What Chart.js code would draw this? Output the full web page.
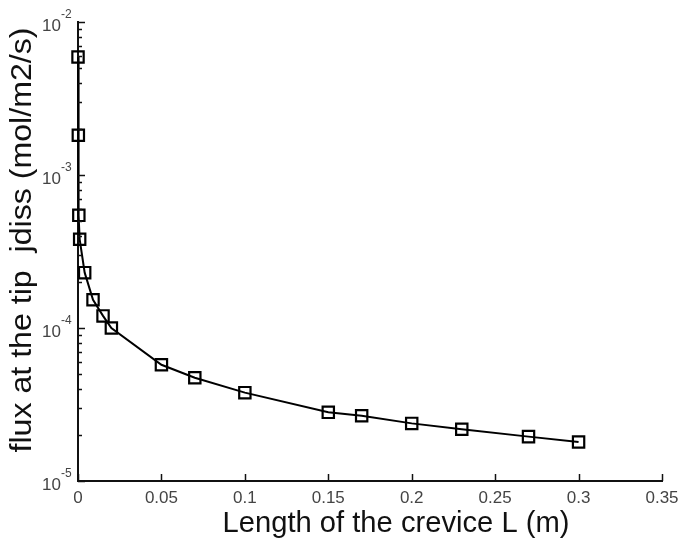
<!DOCTYPE html>
<html lang="en">
<head>
  <meta charset="UTF-8" />
  <title>flux vs crevice length</title>
  <script src="https://cdn.jsdelivr.net/npm/chart.js@4.4.1/dist/chart.umd.min.js"></script>
  <style>
    html, body { margin: 0; padding: 0; background: #fff; }
    #wrap { width: 678px; height: 541px; }
  </style>
</head>
<body>
  <div id="wrap"><canvas id="fluxChart"></canvas></div>
  <script>
    // crevice length L (m)
    const lengths = [0.00001, 0.0002, 0.0005, 0.001, 0.004, 0.009, 0.015, 0.02, 0.05, 0.07, 0.1, 0.15, 0.17, 0.2, 0.23, 0.27, 0.3];
    // flux at the tip jdiss (mol/m2/s)
    const flux = [5.9e-3, 1.82e-3, 5.45e-4, 3.8e-4, 2.3e-4, 1.53e-4, 1.2e-4, 1.0e-4, 5.75e-5, 4.73e-5, 3.78e-5, 2.81e-5, 2.67e-5, 2.38e-5, 2.18e-5, 1.95e-5, 1.8e-5];
    const xTicks = [0, 0.05, 0.1, 0.15, 0.2, 0.25, 0.3, 0.35];
    const xTickLabels = ["0", "0.05", "0.1", "0.15", "0.2", "0.25", "0.3", "0.35"];
    const yExponents = [-5, -4, -3, -2];
    const xTitle = "Length of the crevice L (m)";
    const yTitle = "flux at the tip  jdiss (mol/m2/s)";

    // draw text stretched to a given width (the source figure is a bit stretched)
    function fitText(ctx, text, x, y, width) {
      const w = ctx.measureText(text).width;
      ctx.save();
      ctx.translate(x, y);
      ctx.scale(width / w, 1);
      ctx.fillText(text, 0, 0);
      ctx.restore();
    }

    // ticks, tick labels and axis titles drawn matlab-style
    const axisDecor = {
      id: "axisDecor",
      afterDraw(chart) {
        const ctx = chart.ctx;
        const xs = chart.scales.x;
        const ys = chart.scales.y;
        const area = chart.chartArea;
        ctx.save();
        ctx.strokeStyle = "#111";
        ctx.lineWidth = 1.5;
        // x ticks (inward)
        xTicks.forEach((v) => {
          const px = Math.round(xs.getPixelForValue(v)) + 0.5;
          ctx.beginPath();
          ctx.moveTo(px, area.bottom);
          ctx.lineTo(px, area.bottom - 7);
          ctx.stroke();
        });
        // y ticks, major and minor
        yExponents.forEach((e) => {
          for (let m = 1; m <= 9; m++) {
            if (e === -2 && m > 1) break;
            const py = Math.round(ys.getPixelForValue(m * Math.pow(10, e))) + 0.5;
            ctx.beginPath();
            ctx.moveTo(area.left, py);
            ctx.lineTo(area.left + (m === 1 ? 7 : 4), py);
            ctx.stroke();
          }
        });
        // x tick labels
        ctx.fillStyle = "#444";
        ctx.font = "17px 'Liberation Sans', Arial, sans-serif";
        ctx.textAlign = "center";
        ctx.textBaseline = "middle";
        xTicks.forEach((v, i) => {
          ctx.fillText(xTickLabels[i], xs.getPixelForValue(v), area.bottom + 17);
        });
        // y tick labels 10^e
        yExponents.forEach((e) => {
          const py = ys.getPixelForValue(Math.pow(10, e));
          ctx.font = "17px 'Liberation Sans', Arial, sans-serif";
          ctx.textAlign = "right";
          ctx.textBaseline = "middle";
          ctx.fillText("10", area.left - 17, py + 4);
          ctx.font = "12px 'Liberation Sans', Arial, sans-serif";
          ctx.textAlign = "left";
          ctx.fillText(String(e), area.left - 17, py - 7);
        });
        // axis titles
        ctx.fillStyle = "#111";
        ctx.font = "29px 'Liberation Sans', Arial, sans-serif";
        ctx.textAlign = "center";
        ctx.textBaseline = "middle";
        fitText(ctx, xTitle, 396, 524, 347);
        ctx.translate(23, 240);
        ctx.rotate(-Math.PI / 2);
        fitText(ctx, yTitle, 0, 0, 425);
        ctx.restore();
      }
    };

    new Chart(document.getElementById("fluxChart").getContext("2d"), {
      type: "line",
      data: {
        datasets: [
          {
            label: "jdiss",
            data: lengths.map((l, i) => ({ x: l, y: flux[i] })),
            borderColor: "#000",
            borderWidth: 2,
            pointStyle: "rect",
            pointRadius: 8,
            pointBorderWidth: 2.2,
            pointBorderColor: "#000",
            pointBackgroundColor: "rgba(0,0,0,0)",
            tension: 0,
            clip: false,
          },
        ],
      },
      options: {
        responsive: true,
        maintainAspectRatio: false,
        animation: false,
        layout: { padding: { left: 78, top: 22, right: 16, bottom: 60 } },
        plugins: { legend: { display: false }, tooltip: { enabled: false } },
        scales: {
          x: {
            type: "linear",
            min: 0,
            max: 0.35,
            grid: { display: false, drawTicks: false },
            border: { display: true, color: "#111", width: 2 },
            ticks: { display: false },
          },
          y: {
            type: "logarithmic",
            min: 1e-5,
            max: 1e-2,
            grid: { display: false, drawTicks: false },
            border: { display: true, color: "#111", width: 2 },
            ticks: { display: false },
          },
        },
      },
      plugins: [axisDecor],
    });
  </script>
</body>
</html>
